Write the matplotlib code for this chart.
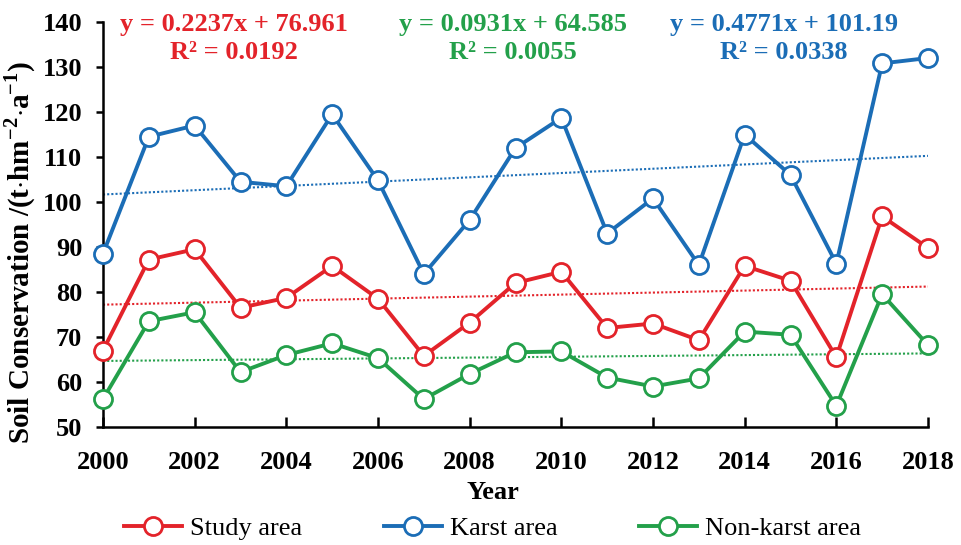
import matplotlib
matplotlib.use("Agg")
import matplotlib.pyplot as plt
import numpy as np

plt.rcParams['font.family'] = ['Liberation Serif', 'DejaVu Serif']
plt.rcParams['mathtext.fontset'] = 'custom'
plt.rcParams['mathtext.rm'] = 'Liberation Serif:bold'
plt.rcParams['mathtext.bf'] = 'Liberation Serif:bold'

years = list(range(2000, 2019))
study_area = [67.0, 87.2, 89.5, 76.5, 78.7, 85.8, 78.5, 65.8, 73.2, 82.0,
              84.5, 72.0, 73.0, 69.3, 85.8, 82.5, 65.5, 96.8, 89.8]
karst_area = [88.5, 114.5, 117.0, 104.5, 103.5, 119.5, 104.8, 84.0, 96.0, 112.0,
              118.7, 93.0, 100.8, 86.0, 115.0, 106.0, 86.3, 130.8, 132.0]
nonkarst_area = [56.2, 73.5, 75.5, 62.2, 66.0, 68.6, 65.3, 56.2, 61.8, 66.6,
                 66.8, 61.0, 59.0, 60.8, 71.2, 70.5, 54.7, 79.5, 68.2]

series_names = ['Study area', 'Karst area', 'Non-karst area']
slopes = [0.2237, 0.4771, 0.0931]
intercepts = [76.961, 101.19, 64.585]
r_squared = [0.0192, 0.0338, 0.0055]

colors = ['#e3232a', '#1b6db6', '#23a04a']

fig = plt.figure(figsize=(9.62, 5.45), dpi=100)
ax_w, ax_h = 928 - 103, 427 - 22
ax = fig.add_axes([103 / 962, 1 - 427 / 545, ax_w / 962, ax_h / 545])

x = np.array(years)
idx = np.arange(1, len(years) + 1)
for vals, name, c, k, b in zip([study_area, karst_area, nonkarst_area],
                               series_names, colors, slopes, intercepts):
    ax.plot(x, k * idx + b, linestyle=(0, (1, 1)), color=c, lw=1.5, zorder=2)
    ax.plot(x, vals, color=c, lw=2.8, marker='o', ms=13, mfc='white',
            mec=c, mew=2.0, label=name, clip_on=False, zorder=3)

ax.set_xlim(2000, 2018)
ax.set_ylim(50, 140)
ax.set_xticks(range(2000, 2019, 2))
ax.set_yticks(range(50, 141, 10))
for s in ['top', 'right']:
    ax.spines[s].set_visible(False)
for s in ['left', 'bottom']:
    ax.spines[s].set_linewidth(1.8)
ax.tick_params(axis='x', direction='in', length=7, width=1.8, pad=17)
ax.tick_params(axis='y', direction='out', length=5, width=1.8, pad=10)
for lab in ax.get_xticklabels() + ax.get_yticklabels():
    lab.set_fontsize(19)
    lab.set_fontweight('bold')

ax.set_xlabel('Year', fontsize=19, fontweight='bold')
ax.xaxis.set_label_coords((493 - 103) / ax_w, -(481 - 427) / ax_h)
ax.set_ylabel(r'Soil Conservation /(t$\mathbf{\cdot}$hm$^{\mathbf{-2}}$$\mathbf{\cdot}$a$^{\mathbf{-1}}$)',
              fontsize=21, fontweight='bold')
ax.yaxis.set_label_coords(-(103 - 38) / ax_w, (427 - 252) / ax_h)

# regression equations above the lines (study, non-karst, karst from left to right)
eq_order = [0, 2, 1]
eq_x = [2002.85, 2008.95, 2014.85]
for xc, i in zip(eq_x, eq_order):
    ax.text(xc, 136.3, f'y = {slopes[i]:.4f}x + {intercepts[i]:g}\nR² = {r_squared[i]:.4f}',
            color=colors[i], fontsize=19, fontweight='bold', ha='center', va='center',
            linespacing=1.25)

ax.legend(loc='center', bbox_to_anchor=(0.512, (545 - 528) / 545), bbox_transform=fig.transFigure,
          ncol=3, frameon=False, fontsize=19, handlelength=2.2, columnspacing=3.1,
          handletextpad=0.3, borderaxespad=0)

fig.savefig('out.png', dpi=100)
